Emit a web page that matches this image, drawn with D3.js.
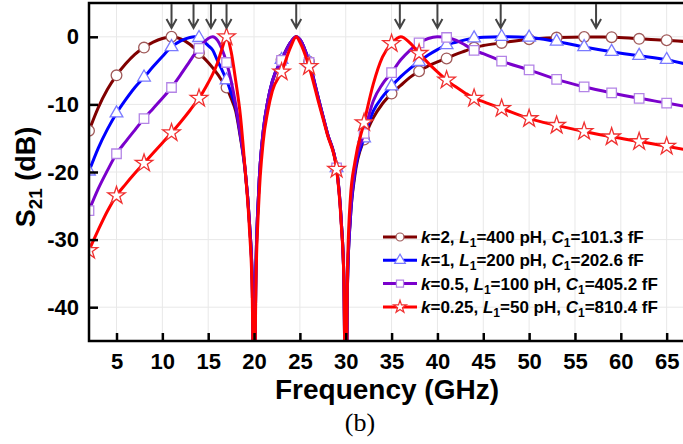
<!DOCTYPE html>
<html>
<head>
<meta charset="utf-8">
<script src="https://cdn.jsdelivr.net/npm/d3@7"></script>
<style>
  body { margin: 0; background: #fff; }
  text { font-family: Arial, "Liberation Sans", sans-serif; }
</style>
</head>
<body>
<script>
// ----------------------------------- DATA --------------------------------------------
var freqs = [2,3,4,5,6,7,8,9,10,11,12,13,13.5,14,15,15.5,16,16.5,17,17.5,18,18.5,19,19.5,19.8,20,
             20.2,20.5,21,21.5,22,23,24,24.6,25,26,27,28,29,29.5,29.8,30,
             30.2,30.5,31,32,33,34,35,36,37,38,39,40,41,42,43,44,45,47,50,53,56,59,62,65,67]

var k2 = [-13.9,-10.5,-7.8,-5.7,-4.0,-2.6,-1.6,-0.8,-0.25,0,-0.3,-1.1,-1.7,-2.4,-3.8,-4.6,-5.5,-6.5,-7.5,-9.1,-11,-14.8,-19.5,-27.5,-36,-60,
          -35,-23,-14,-9.5,-6.6,-3.4,-0.8,0,-0.4,-3.7,-9.0,-14.3,-19.4,-27,-36,-60,
          -36,-27,-20.5,-15.2,-12,-9.9,-8.4,-7.2,-6.0,-5.1,-4.3,-3.7,-3.2,-2.6,-2.1,-1.6,-1.3,-0.9,-0.35,-0.12,-0.03,-0.05,-0.3,-0.5,-0.7]

var k1 = [-19.9,-16.5,-13.7,-11.3,-9.3,-7.5,-6.0,-4.4,-2.9,-1.5,-0.6,-0.1,0,-0.15,-1.3,-2.0,-3.5,-4.9,-6.4,-8.3,-10.5,-14.5,-19.3,-27.5,-36,-60,
          -35,-23,-14,-9.5,-6.5,-3.4,-0.8,0,-0.4,-3.7,-9.0,-14.3,-19.4,-27,-36,-60,
          -36,-27,-20,-15,-11,-8.9,-7.3,-5.9,-4.7,-3.7,-2.7,-1.9,-1.2,-0.8,-0.45,-0.2,-0.05,0,-0.1,-0.7,-1.5,-2.2,-2.8,-3.4,-4.0]

var k05 = [-25.7,-22.5,-19.8,-17.3,-15.5,-13.8,-12.1,-10.6,-9.1,-7.5,-5.6,-3.6,-2.6,-1.7,-0.25,0,-0.5,-1.8,-3.8,-6.5,-10,-14.3,-19.3,-27.5,-36,-60,
           -35,-23,-14,-9.5,-6.6,-3.5,-0.8,0,-0.4,-3.8,-9.1,-14.3,-19.4,-27,-36,-60,
           -36,-26.5,-19.5,-14.3,-9.5,-7.0,-5.3,-3.4,-2.0,-0.9,-0.25,0,-0.1,-0.5,-1.2,-2.0,-2.5,-3.6,-4.9,-6.3,-7.4,-8.3,-9.1,-9.8,-10.3]

var k025 = [-31.6,-28.6,-25.8,-23.5,-21.8,-20.2,-18.7,-17.2,-15.7,-14.2,-12.6,-10.9,-10.0,-9.1,-6.8,-5.5,-3.9,-1.8,0,-2.2,-6.5,-11.5,-19.2,-28.5,-38,-60,
            -37,-25,-15.5,-11,-8,-5.2,-1.5,0,-0.8,-4.4,-9.5,-14.5,-19.6,-27.5,-36,-60,
            -34,-24,-18.5,-12.7,-7,-3,-1.0,0,-0.9,-2.45,-3.9,-5.2,-6.4,-7.4,-8.3,-9.1,-9.6,-10.6,-12.1,-13.1,-14.0,-14.8,-15.5,-16.2,-16.7]

var markerFreqs = [2,5,8,11,14,17,20,23,26,29,32,35,38,41,44,47,50,53,56,59,62,65]
var arrowFreqs = [11,13.4,15.3,17,24.6,35.9,40,46.9,57.3]
var xTicks = [5,10,15,20,25,30,35,40,45,50,55,60,65]
var yTicks = [0,-10,-20,-30,-40]

var series = [
	{k: '2',    L: '400', C: '101.3', values: k2,   color: '#800000', mark: '#a05a5a', symbol: 'circle'},
	{k: '1',    L: '200', C: '202.6', values: k1,   color: '#0000ff', mark: '#7a7aff', symbol: 'triangle'},
	{k: '0.5',  L: '100', C: '405.2', values: k05,  color: '#7a00cc', mark: '#b384e6', symbol: 'square'},
	{k: '0.25', L: '50',  C: '810.4', values: k025, color: '#ff0000', mark: '#f03030', symbol: 'star'}
]

// ----------------------------------- SVG and SCALES --------------------------------------------
var width = 683
var height = 444
var plotL = 89, plotR = 685, plotT = 3, plotB = 341

var svg = d3.select('body')
			.append('svg')
			.attr('width', width)
			.attr('height', height)

svg.append('rect')
	.attr('width', '100%')
	.attr('height', '100%')
	.attr('fill', '#fff')

var x = d3.scaleLinear().domain([2, 67]).range([plotL, plotR])
var y = d3.scaleLinear().domain([-45, 5]).range([plotB, plotT])

svg.append('clipPath')
	.attr('id', 'plot')
	.append('rect')
	.attr('x', plotL)
	.attr('y', plotT)
	.attr('width', plotR - plotL)
	.attr('height', plotB - plotT)

// ----------------------------------- GRID --------------------------------------------
svg.append('g')
	.selectAll('line')
	.data(xTicks)
	.enter()
	.append('line')
	.attr('x1', d => x(d)).attr('x2', d => x(d))
	.attr('y1', plotT).attr('y2', plotB)
	.attr('stroke', '#e8e8e8')
	.attr('stroke-width', 1)

svg.append('g')
	.selectAll('line')
	.data(yTicks)
	.enter()
	.append('line')
	.attr('x1', plotL).attr('x2', plotR)
	.attr('y1', d => y(d)).attr('y2', d => y(d))
	.attr('stroke', '#e8e8e8')
	.attr('stroke-width', 1)

// ----------------------------------- CURVES --------------------------------------------
var line = d3.line()
	.x(d => x(d[0]))
	.y(d => y(d[1]))
	.curve(d3.curveMonotoneX)

var symbolTypes = {circle: d3.symbolCircle, triangle: d3.symbolTriangle, square: d3.symbolSquare, star: d3.symbolStar}
var symbolSizes = {circle: 90, triangle: 70, square: 90, star: 95}

var plot = svg.append('g').attr('clip-path', 'url(#plot)')

series.forEach(function(s){
	var pts = freqs.map((f, i) => [f, s.values[i]])

	plot.append('path')
		.datum(pts)
		.attr('d', line)
		.attr('fill', 'none')
		.attr('stroke', s.color)
		.attr('stroke-width', 3)
		.attr('stroke-linejoin', 'round')

	plot.selectAll(null)
		.data(pts.filter(p => markerFreqs.indexOf(p[0]) >= 0))
		.enter()
		.append('path')
		.attr('d', d3.symbol().type(symbolTypes[s.symbol]).size(symbolSizes[s.symbol]))
		.attr('transform', d => 'translate(' + x(d[0]) + ',' + y(d[1]) + ')')
		.attr('fill', '#fff')
		.attr('stroke', s.mark)
		.attr('stroke-width', 1.3)
})

// ----------------------------------- AXES --------------------------------------------
svg.append('rect')
	.attr('x', plotL)
	.attr('y', plotT)
	.attr('width', plotR - plotL)
	.attr('height', plotB - plotT)
	.attr('fill', 'none')
	.attr('stroke', '#000')
	.attr('stroke-width', 2.5)

var xAxis = svg.append('g')
	.attr('transform', 'translate(0,' + plotB + ')')
	.call(d3.axisBottom(x).tickValues(xTicks).tickFormat(d => String(d))
		.tickSizeInner(-8).tickSizeOuter(0).tickPadding(12))

var yAxis = svg.append('g')
	.attr('transform', 'translate(' + plotL + ',0)')
	.call(d3.axisLeft(y).tickValues(yTicks).tickFormat(d => String(d))
		.tickSizeInner(-9).tickSizeOuter(0).tickPadding(10))

;[xAxis, yAxis].forEach(function(a){
	a.select('.domain').remove()
	a.selectAll('.tick line').attr('stroke', '#000').attr('stroke-width', 2.5)
	a.selectAll('.tick text')
		.attr('fill', '#000')
		.style('font-size', '22px')
		.style('font-weight', 'bold')
		.style('font-family', 'Arial, "Liberation Sans", sans-serif')
})

// axis titles
svg.append('text')
	.attr('x', 387)
	.attr('y', 399)
	.attr('text-anchor', 'middle')
	.style('font-size', '28px')
	.style('font-weight', 'bold')
	.text('Frequency (GHz)')

var yTitle = svg.append('text')
	.attr('transform', 'translate(35,177) rotate(-90)')
	.attr('text-anchor', 'middle')
	.style('font-size', '27px')
	.style('font-weight', 'bold')
yTitle.append('tspan').text('S')
yTitle.append('tspan').attr('dy', 7).style('font-size', '19px').text('21')
yTitle.append('tspan').attr('dy', -7).text(' (dB)')

svg.append('text')
	.attr('x', 360)
	.attr('y', 431)
	.attr('text-anchor', 'middle')
	.style('font-family', '"Liberation Serif", "Times New Roman", serif')
	.style('font-size', '26px')
	.text('(b)')

// ----------------------------------- ARROWS --------------------------------------------
svg.append('g')
	.selectAll('path')
	.data(arrowFreqs)
	.enter()
	.append('path')
	.attr('d', d => 'M' + x(d) + ',4V28M' + (x(d) - 5) + ',19L' + x(d) + ',28L' + (x(d) + 5) + ',19')
	.attr('fill', 'none')
	.attr('stroke', '#444')
	.attr('stroke-width', 2)

// ----------------------------------- LEGEND --------------------------------------------
var legend = svg.append('g')
	.selectAll('g')
	.data(series)
	.enter()
	.append('g')
	.attr('transform', (d, i) => 'translate(383,' + (237 + i * 23.3) + ')')

legend.append('line')
	.attr('x1', 0).attr('x2', 34)
	.attr('stroke', d => d.color)
	.attr('stroke-width', 3)

legend.append('path')
	.attr('d', d => d3.symbol().type(symbolTypes[d.symbol]).size(50)())
	.attr('transform', 'translate(17,0)')
	.attr('fill', '#fff')
	.attr('stroke', d => d.mark)
	.attr('stroke-width', 1.2)

var lt = legend.append('text')
	.attr('x', 38)
	.attr('y', 6)
	.style('font-size', '17px')
	.style('font-weight', 'bold')

lt.each(function(d){
	var t = d3.select(this)
	t.append('tspan').style('font-style', 'italic').text('k')
	t.append('tspan').text('=' + d.k + ', ')
	t.append('tspan').style('font-style', 'italic').text('L')
	t.append('tspan').attr('dy', 4).style('font-size', '12px').text('1')
	t.append('tspan').attr('dy', -4).text('=' + d.L + ' pH, ')
	t.append('tspan').style('font-style', 'italic').text('C')
	t.append('tspan').attr('dy', 4).style('font-size', '12px').text('1')
	t.append('tspan').attr('dy', -4).text('=' + d.C + ' fF')
})
</script>
</body>
</html>
